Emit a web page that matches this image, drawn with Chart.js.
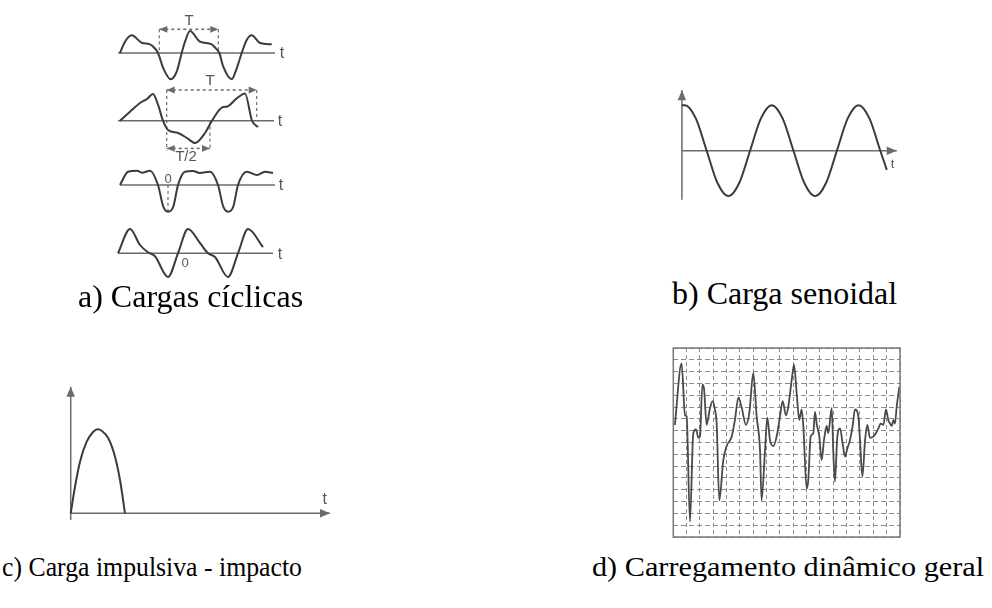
<!DOCTYPE html>
<html>
<head>
<meta charset="utf-8">
<script src="https://cdn.jsdelivr.net/npm/chart.js@4.4.1/dist/chart.umd.min.js"></script>
<style>
  body { margin: 0; background: #fff; }
  #page { position: relative; width: 992px; height: 608px; overflow: hidden; background: #fff; }
  canvas { position: absolute; }
  .cap { position: absolute; font-family: "Liberation Serif", "Times New Roman", serif; color: #000; white-space: nowrap; line-height: 1; transform-origin: 0 0; }
</style>
</head>
<body>
<div id="page">
  <canvas id="rowA1" style="left:100px;top:10px" width="200" height="80"></canvas>
  <canvas id="rowA2" style="left:100px;top:75px" width="200" height="90"></canvas>
  <canvas id="rowA3" style="left:100px;top:160px" width="200" height="60"></canvas>
  <canvas id="rowA4" style="left:100px;top:222px" width="200" height="63"></canvas>
  <canvas id="sine" style="left:660px;top:80px" width="260" height="130"></canvas>
  <canvas id="impact" style="left:40px;top:375px" width="310" height="155"></canvas>
  <canvas id="general" style="left:665px;top:340px" width="245" height="205"></canvas>

  <div class="cap" style="left:78px;top:280px;font-size:32px">a) Cargas cíclicas</div>
  <div class="cap" style="left:672px;top:277px;font-size:32px">b) Carga senoidal</div>
  <div class="cap" style="left:2px;top:553px;font-size:28px;transform:scaleX(0.92)">c) Carga impulsiva - impacto</div>
  <div class="cap" style="left:592px;top:553px;font-size:28px;transform:scaleX(1.08)">d) Carregamento dinâmico geral</div>
</div>
<script>
const INK = '#3b3b3b';
const AXIS = '#6b6b6b';

// a) cargas cíclicas, four traces (time, load)
const cyc1T = [0, 0.5, 1.17, 2.17, 3.0, 3.4, 3.8, 4.33, 5.07, 5.67, 6.17, 6.5, 7.0, 8.0, 9.17, 9.5, 9.93, 10.33, 11.17, 11.67, 12.17, 12.67, 13.17, 14.0, 15.17];
const cyc1F = [0, 1.13, 1.77, 1.03, 0.87, 0.55, 0, -1.53, -2.63, -1.87, 0, 1.13, 2.2, 1.13, 0.87, 0.55, 0, -1.37, -2.63, -1.53, 0, 1.3, 1.77, 1.0, 0.87];

const cyc2T = [0, 1, 2, 2.7, 3.3, 3.8, 4.3, 4.8, 5.8, 6.7, 7.5, 8.5, 9.2, 10.3, 10.67, 11.67, 12.5, 13.2, 13.8];
const cyc2F = [0, 0.9, 1.77, 2.17, 2.67, 1.6, 0, -0.93, -1.23, -1.73, -2.23, -1.23, 0, 1.37, 1.4, 2.23, 2.73, 0, -0.63];

const cyc3T = [0, 0.8, 1.7, 2.2, 3.0, 3.8, 4.33, 4.8, 5.33, 5.8, 6.5, 7.3, 8.0, 9.0, 9.8, 10.33, 10.8, 11.33, 11.8, 12.7, 13.7, 14.5, 15.3];
const cyc3F = [0, 1.33, 1.43, 1.23, 1.43, 0, -2.17, -2.67, -2.17, 0, 1.33, 1.4, 1.2, 1.33, 0, -2.17, -2.67, -2.17, 0, 1.33, 1.0, 1.33, 1.2];

const cyc4T = [-0.2, 1.0, 2.0, 2.8, 3.5, 4.8, 5.8, 6.8, 8.0, 8.8, 9.5, 10.8, 11.8, 12.8, 14.3];
const cyc4F = [0, 2.43, 0.83, 0.1, -0.3, -2.37, 0, 2.43, 1.03, 0, -0.37, -2.37, 0, 2.43, 0.63];

// b) carga senoidal (quarter periods)
const sineT = [-0.14, 0, 0.5, 1, 1.5, 2, 2.5, 3, 3.5, 4, 4.5, 5, 5.5, 6, 6.5, 7, 7.5, 8, 8.5, 9, 9.3];
const sineF = [1, 1, 0.71, 0, -0.71, -1, -0.71, 0, 0.71, 1, 0.71, 0, -0.71, -1, -0.71, 0, 0.71, 1, 0.71, 0, -0.42];

// c) carga impulsiva
const impT = [0, 0.43, 0.93, 1.6, 2.26, 2.7, 3.1, 3.76, 4.43, 4.93, 5.43];
const impF = [0, 2.66, 5.16, 7.16, 8.16, 8.4, 8.26, 7.5, 5.66, 3.33, 0];

// d) carregamento dinâmico geral (grid units)
const dynT = [0.12, 0.62, 0.88, 1.0, 1.25, 1.5, 1.7, 1.88, 2.0, 2.18, 2.3, 2.5, 2.75, 2.95, 3.12, 3.25, 3.45, 3.75, 4.0, 4.38, 4.62, 4.88, 5.12, 5.45, 5.7, 6.0, 6.25, 6.5, 6.62, 6.88, 7.05, 7.25, 7.5, 7.75, 8.0, 8.2, 8.45, 8.62, 8.88, 9.05, 9.25, 9.45, 9.62, 9.75, 10.0, 10.12, 10.3, 10.5, 10.62, 10.75, 10.95, 11.12, 11.3, 11.5, 11.62, 11.88, 12.0, 12.12, 12.3, 12.5, 12.7, 12.88, 13.05, 13.25, 13.45, 13.62, 13.88, 14.0, 14.18, 14.38, 14.55, 14.75, 15.0, 15.2, 15.38, 15.55, 15.75, 15.95, 16.12, 16.25, 16.38, 16.5, 16.62, 16.75, 16.95];
const dynF = [9.5, 14.7, 10.3, 10.2, 1.3, 8.8, 9.1, 8.4, 8.5, 12.9, 12.6, 9.5, 10.9, 11.5, 10.8, 9.6, 3.1, 6.5, 7.7, 8.5, 9.9, 11.8, 11.0, 9.5, 10.5, 13.9, 10.2, 7.4, 3.1, 7.4, 10.1, 8.2, 7.7, 8.5, 10.2, 11.5, 10.3, 11.0, 13.3, 14.6, 12.2, 9.9, 10.8, 9.4, 4.1, 4.8, 8.5, 8.8, 10.6, 9.6, 8.5, 6.5, 8.2, 9.4, 8.8, 10.9, 7.1, 4.7, 8.5, 9.2, 7.9, 6.8, 7.5, 8.2, 9.4, 10.8, 10.2, 8.2, 5.1, 8.2, 9.5, 8.4, 8.5, 8.8, 9.2, 9.6, 9.5, 10.8, 9.9, 9.6, 9.4, 9.9, 9.6, 11.0, 12.7];
const dynGridX = 17;
const dynGridY = 16;

const points = (xs, ys) => xs.map((x, i) => ({x: x, y: ys[i]}));

const arrowHead = (ctx, tipX, tipY, fromX, fromY, len, wid) => {
  const a = Math.atan2(tipY - fromY, tipX - fromX);
  ctx.beginPath();
  ctx.moveTo(tipX, tipY);
  ctx.lineTo(tipX - len * Math.cos(a) + wid / 2 * Math.sin(a), tipY - len * Math.sin(a) - wid / 2 * Math.cos(a));
  ctx.lineTo(tipX - len * Math.cos(a) - wid / 2 * Math.sin(a), tipY - len * Math.sin(a) + wid / 2 * Math.cos(a));
  ctx.closePath();
  ctx.fill();
};

// axis lines, dimension arrows and small labels, placed in data units
const decor = {
  id: 'decor',
  beforeDatasetsDraw(chart, args, opts) {
    const {ctx} = chart;
    const px = v => chart.scales.x.getPixelForValue(v);
    const py = v => chart.scales.y.getPixelForValue(v);
    ctx.save();
    (opts.segments || []).forEach(s => {
      const x1 = px(s.from[0]), y1 = py(s.from[1]);
      const x2 = px(s.to[0]), y2 = py(s.to[1]);
      const color = s.color || AXIS;
      ctx.strokeStyle = color;
      ctx.fillStyle = color;
      ctx.lineWidth = s.width || 1.5;
      ctx.setLineDash(s.dash || []);
      ctx.beginPath();
      ctx.moveTo(x1, y1);
      ctx.lineTo(x2, y2);
      ctx.stroke();
      ctx.setLineDash([]);
      const len = s.head || 8;
      if (s.end) arrowHead(ctx, x2, y2, x1, y1, len, len * 0.85);
      if (s.start) arrowHead(ctx, x1, y1, x2, y2, len, len * 0.85);
    });
    ctx.restore();
  },
  afterDatasetsDraw(chart, args, opts) {
    const {ctx, chartArea} = chart;
    const px = v => chart.scales.x.getPixelForValue(v);
    const py = v => chart.scales.y.getPixelForValue(v);
    ctx.save();
    if (opts.frame) {
      ctx.strokeStyle = '#777';
      ctx.lineWidth = 1.5;
      ctx.strokeRect(chartArea.left, chartArea.top, chartArea.right - chartArea.left, chartArea.bottom - chartArea.top);
    }
    (opts.labels || []).forEach(l => {
      ctx.font = (l.size || 14) + 'px "Liberation Sans", Arial, sans-serif';
      ctx.fillStyle = l.color || '#555';
      ctx.textAlign = 'center';
      ctx.textBaseline = 'middle';
      ctx.fillText(l.text, px(l.at[0]), py(l.at[1]));
    });
    ctx.restore();
  }
};

const makeChart = (id, xs, ys, xRange, yRange, decorOpts, extra) => {
  const scales = {
    x: {type: 'linear', display: false, min: xRange[0], max: xRange[1]},
    y: {type: 'linear', display: false, min: yRange[0], max: yRange[1]},
  };
  return new Chart(document.getElementById(id), {
    type: 'scatter',
    data: {
      datasets: [{
        data: points(xs, ys),
        showLine: true,
        borderColor: (extra && extra.color) || INK,
        borderWidth: (extra && extra.width) || 2,
        pointRadius: 0,
        cubicInterpolationMode: 'monotone',
        clip: false,
      }]
    },
    options: {
      responsive: false,
      animation: false,
      events: [],
      layout: {padding: (extra && extra.padding) || 0},
      scales: (extra && extra.scales) || scales,
      plugins: {
        legend: {display: false},
        tooltip: {enabled: false},
        decor: decorOpts,
      }
    },
    plugins: [decor]
  });
};

const dashed = [3, 3];

makeChart('rowA1', cyc1T, cyc1F, [-2, 18], [-3.7, 4.3], {
  segments: [
    {from: [-0.2, 0], to: [15.5, 0]},
    {from: [3.93, 2.37], to: [3.93, 0], dash: dashed, width: 1.2},
    {from: [9.83, 2.37], to: [9.83, 0], dash: dashed, width: 1.2},
    {from: [3.93, 2.37], to: [9.83, 2.37], dash: dashed, width: 1.5, start: true, end: true, head: 8},
  ],
  labels: [{text: 't', at: [16.2, -0.1], size: 16}, {text: 'T', at: [6.9, 3.25], size: 15}],
});

makeChart('rowA2', cyc2T, cyc2F, [-2, 18], [-4.43, 4.57], {
  segments: [
    {from: [-0.2, 0], to: [15.4, 0]},
    {from: [4.67, 3.07], to: [4.67, -2.97], dash: dashed, width: 1.2},
    {from: [13.67, 3.07], to: [13.67, 0], dash: dashed, width: 1.2},
    {from: [9.0, 0], to: [9.0, -2.97], dash: dashed, width: 1.2},
    {from: [4.67, 3.07], to: [13.67, 3.07], dash: dashed, width: 1.5, start: true, end: true, head: 8},
    {from: [4.67, -2.77], to: [9.0, -2.77], dash: dashed, width: 1.5, start: true, end: true, head: 8},
  ],
  labels: [
    {text: 't', at: [16.0, -0.1], size: 16},
    {text: 'T', at: [9.0, 3.95], size: 15},
    {text: 'T/2', at: [6.6, -3.65], size: 15},
  ],
});

makeChart('rowA3', cyc3T, cyc3F, [-2, 18], [-3.5, 2.5], {
  segments: [
    {from: [0, 0], to: [15.5, 0]},
    {from: [4.8, 0], to: [4.8, -2.67], dash: dashed, width: 1.2},
  ],
  labels: [{text: 't', at: [16.1, -0.1], size: 16}, {text: '0', at: [4.8, 0.55], size: 13}],
});

makeChart('rowA4', cyc4T, cyc4F, [-2, 18], [-3.17, 3.13], {
  segments: [{from: [-0.2, 0], to: [15.3, 0]}],
  labels: [{text: 't', at: [16.0, -0.1], size: 16}, {text: '0', at: [6.5, -1.0], size: 13}],
});

makeChart('sine', sineT, sineF, [-1.15, 10.83], [-1.303, 1.554], {
  segments: [
    {from: [-0.14, -1.08], to: [-0.14, 1.33], end: true, head: 10},
    {from: [-0.14, 0], to: [9.76, 0], end: true, head: 10},
  ],
  labels: [{text: 't', at: [9.57, -0.3], size: 13}],
});

makeChart('impact', impT, impF, [-3.07, 27.93], [-1.67, 13.83], {
  segments: [
    {from: [0, -0.67], to: [0, 12.66], end: true, head: 10},
    {from: [0, 0], to: [25.93, 0], end: true, head: 10},
  ],
  labels: [{text: 't', at: [25.4, 1.33], size: 16}],
});

makeChart('general', dynT, dynF, [0, dynGridX], [0, dynGridY], {frame: true}, {
  color: '#4a4a4a',
  width: 1.8,
  padding: {left: 8.3, top: 8, right: 10, bottom: 8},
  scales: {
    x: {
      type: 'linear', min: 0, max: dynGridX,
      ticks: {display: false, stepSize: 1, maxTicksLimit: 100, autoSkip: false},
      grid: {color: '#8c8c8c', lineWidth: 1, drawTicks: false},
      border: {display: false, dash: [4, 3]},
    },
    y: {
      type: 'linear', min: 0, max: dynGridY,
      ticks: {display: false, stepSize: 1, maxTicksLimit: 100, autoSkip: false},
      grid: {color: '#8c8c8c', lineWidth: 1, drawTicks: false},
      border: {display: false, dash: [5, 3]},
    },
  },
});
</script>
</body>
</html>
